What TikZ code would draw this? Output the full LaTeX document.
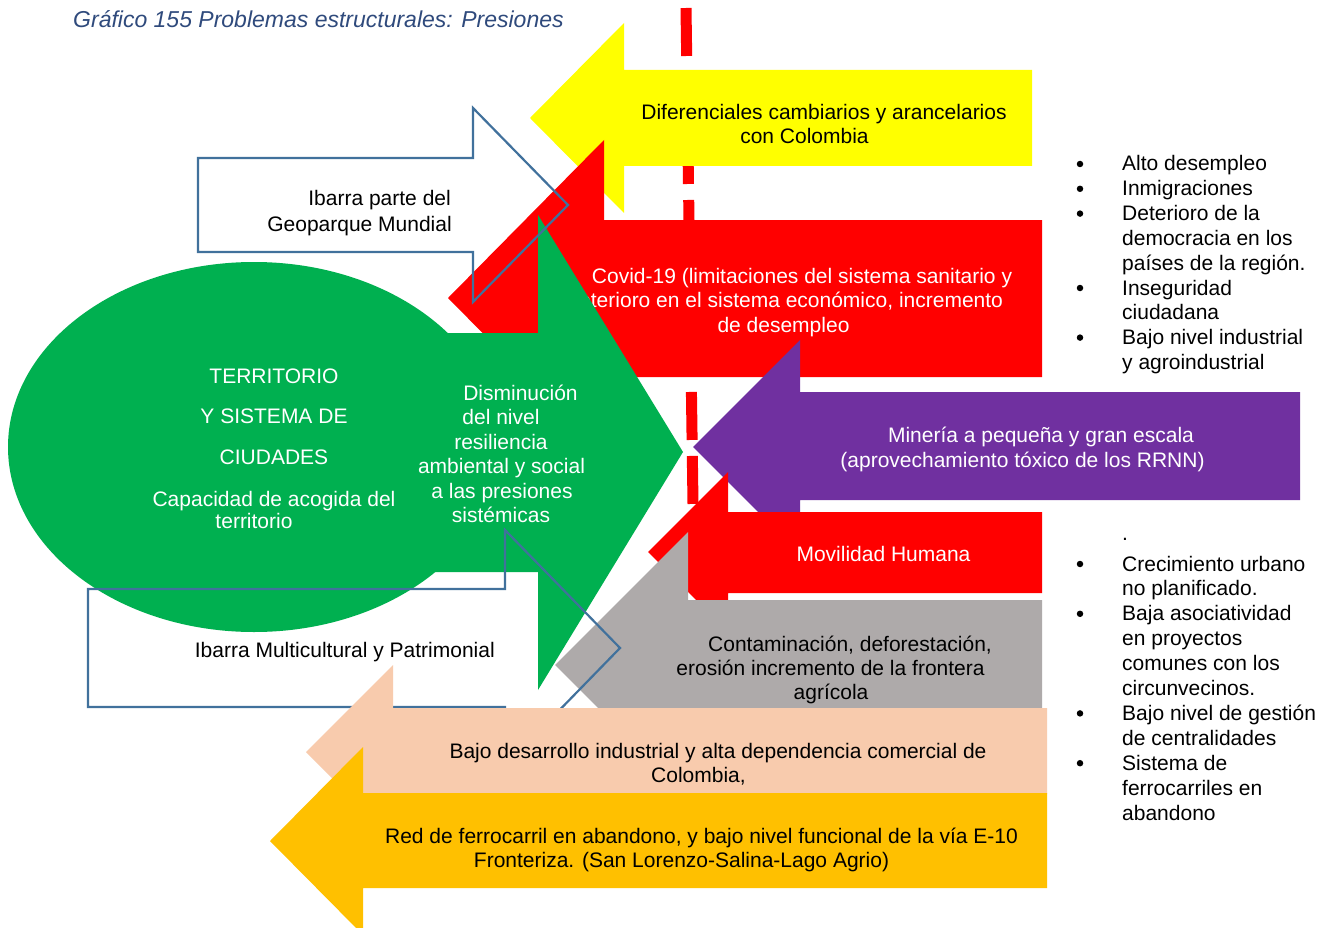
\documentclass[tikz,border=0pt]{standalone}
\usepackage{fontspec}
\setmainfont{Liberation Sans}
\definecolor{cyel}{HTML}{FFFF00}
\definecolor{cred}{HTML}{FF0000}
\definecolor{cgreen}{HTML}{00B050}
\definecolor{cpurple}{HTML}{7030A0}
\definecolor{cgrey}{HTML}{AEAAAA}
\definecolor{cpeach}{HTML}{F8CBAD}
\definecolor{corange}{HTML}{FFC000}
\definecolor{cblue}{HTML}{41719C}
\definecolor{ctitle}{HTML}{2F4A7C}
\begin{document}
\begin{tikzpicture}[x=1pt,y=-1pt,
  t/.style={anchor=base, inner sep=0pt, font=\fontsize{21}{24}\selectfont},
  tw/.style={t, text=white},
  tr/.style={t, anchor=base east},
  tl/.style={t, anchor=base west},
  outl/.style={draw=cblue, line width=2.2pt, line join=miter},
  bul/.style={circle, fill=black, inner sep=0pt, minimum size=6.5pt}
]
\useasboundingbox (0,0) rectangle (1330,928);
\fill[white] (0,0) rectangle (1330,928);

% title
\node[tl, text=ctitle, font=\fontsize{23}{26}\selectfont\itshape] (title) at (73,28) {Gráfico 155 Problemas estructurales: Presiones};

% red dashed line
\coordinate (dA) at (686,8);
\coordinate (dB) at (693,504);
\draw[cred, line width=11pt, dash pattern=on 48pt off 16pt] (dA) -- (dB);

% yellow arrow
\fill[cyel] (530,118) -- (624,23) -- (624,70) -- (1032,70) -- (1032,166) -- (624,166) -- (624,213) -- cycle;
\node[t] (y1) at (824,119.5) {Diferenciales cambiarios y arancelarios};
\node[t] (y2) at (804.5,143.5) {con Colombia};

% covid arrow
\fill[cred] (448,298) -- (604,140) -- (604,220) -- (1042,220) -- (1042,377) -- (604,377) -- (604,456) -- cycle;
\node[tw] (c1) at (802,283) {Covid-19 (limitaciones del sistema sanitario y};
\node[tw] (c2) at (783.5,307) {Deterioro en el sistema económico, incremento};
\node[tw] (c3) at (783.5,332) {de desempleo};

% purple arrow
\fill[cpurple] (693,447) -- (800,340) -- (800,392) -- (1300,392) -- (1300,500) -- (800,500) -- (800,554) -- cycle;
\node[tw] (p1) at (1041,442.5) {Minería a pequeña y gran escala};
\node[tw] (p2) at (1022.5,467) {(aprovechamiento tóxico de los RRNN)};

% green ellipse and arrow
\fill[cgreen] (254,447) ellipse [x radius=246, y radius=185];
\fill[cgreen] (683,452) -- (538,215) -- (538,333) -- (300,333) -- (300,572) -- (538,572) -- (538,690) -- cycle;
\node[tw] (e1) at (274,383) {TERRITORIO};
\node[tw] (e2) at (274,423) {Y SISTEMA DE};
\node[tw] (e3) at (274,464) {CIUDADES};
\begin{scope}
\clip (0,0) rectangle (393,928);
\node[tw] (e4) at (274,506) {Capacidad de acogida del};
\end{scope}
\node[tw] (e5) at (254,528) {territorio};
\node[tw] (g1) at (520.5,400) {Disminución};
\node[tw] (g2) at (501,424.5) {del nivel};
\node[tw] (g3) at (501,449) {resiliencia};
\node[tw] (g4) at (501.5,473.5) {ambiental y social};
\node[tw] (g5) at (502,498) {a las presiones};
\node[tw] (g6) at (501,522.5) {sistémicas};

% movilidad arrow
\fill[cred] (648,552) -- (728,472) -- (728,512) -- (1042,512) -- (1042,593) -- (728,593) -- (728,632) -- cycle;
\node[tw] (m1) at (883.5,561) {Movilidad Humana};

% grey arrow
\fill[cgrey] (555,665) -- (688,532) -- (688,600) -- (1042,600) -- (1042,730) -- (688,730) -- (688,798) -- cycle;
\node[t] (k1) at (850,651) {Contaminación, deforestación,};
\node[t] (k2) at (830.5,675) {erosión incremento de la frontera};
\node[t] (k3) at (831,699) {agrícola};

% outline arrows
\draw[outl] (198,158) -- (473,158) -- (473,108) -- (568,205) -- (473,302) -- (473,252) -- (198,252) -- cycle;
\node[tr] (b1) at (451,206) {Ibarra parte del};
\node[tr] (b2) at (452,231) {Geoparque Mundial};
\draw[outl] (88,589) -- (505,589) -- (505,530) -- (620,648) -- (505,766) -- (505,707) -- (88,707) -- cycle;
\node[tr] (b3) at (495,657) {Ibarra Multicultural y Patrimonial};

% peach arrow
\fill[cpeach] (306,752) -- (393,665) -- (393,708) -- (1047,708) -- (1047,794) -- (393,794) -- (393,839) -- cycle;
\node[t] (r1) at (718,758) {Bajo desarrollo industrial y alta dependencia comercial de};
\node[t] (r2) at (698.5,782) {Colombia,};

% orange arrow
\fill[corange] (270,841) -- (363,747) -- (363,793) -- (1047,793) -- (1047,888) -- (363,888) -- (363,935) -- cycle;
\node[t] (o1) at (701.5,843) {Red de ferrocarril en abandono, y bajo nivel funcional de la vía E-10};
\node[t] (o2) at (681.5,867) {Fronteriza. (San Lorenzo-Salina-Lago Agrio)};

% list 1
\node[tl] (l1) at (1122,171) {Alto desempleo};
\node[tl] (l2) at (1122,195.8) {Inmigraciones};
\node[tl] (l3) at (1122,220.6) {Deterioro de la};
\node[tl] (l4) at (1122,245.4) {democracia en los};
\node[tl] (l5) at (1122,270.2) {países de la región.};
\node[tl] (l6) at (1122,295) {Inseguridad};
\node[tl] (l7) at (1122,319.8) {ciudadana};
\node[tl] (l8) at (1122,344.6) {Bajo nivel industrial};
\node[tl] (l9) at (1122,369.4) {y agroindustrial};
\node[bul] (d1) at (1080,164) {};
\node[bul] (d2) at (1080,188.8) {};
\node[bul] (d3) at (1080,213.6) {};
\node[bul] (d4) at (1080,288) {};
\node[bul] (d5) at (1080,337.6) {};

% list 2
\node[tl] (n0) at (1122,540) {.};
\node[tl] (n1) at (1122,571) {Crecimiento urbano};
\node[tl] (n2) at (1122,595.9) {no planificado.};
\node[tl] (n3) at (1122,620.8) {Baja asociatividad};
\node[tl] (n4) at (1122,645.7) {en proyectos};
\node[tl] (n5) at (1122,670.6) {comunes con los};
\node[tl] (n6) at (1122,695.5) {circunvecinos.};
\node[tl] (n7) at (1122,720.4) {Bajo nivel de gestión};
\node[tl] (n8) at (1122,745.3) {de centralidades};
\node[tl] (n9) at (1122,770.2) {Sistema de};
\node[tl] (n10) at (1122,795.1) {ferrocarriles en};
\node[tl] (n11) at (1122,820) {abandono};
\node[bul] (f1) at (1080,564) {};
\node[bul] (f2) at (1080,613.8) {};
\node[bul] (f3) at (1080,713.4) {};
\node[bul] (f4) at (1080,763.2) {};
\end{tikzpicture}
\end{document}
